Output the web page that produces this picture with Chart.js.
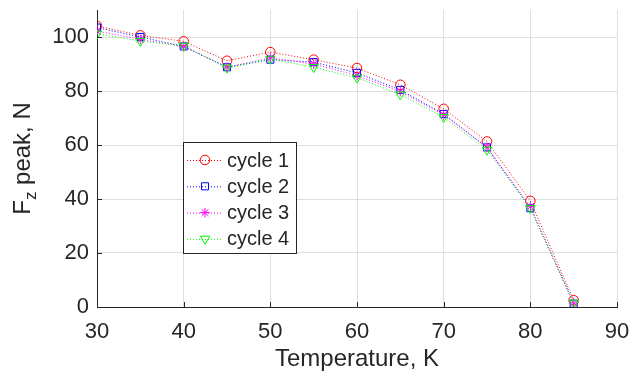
<!DOCTYPE html>
<html lang="en">
<head>
  <meta charset="UTF-8" />
  <title>Fz peak vs temperature</title>
  <script src="https://cdn.jsdelivr.net/npm/chart.js"></script>
  <style>
    html, body { margin: 0; padding: 0; background: #fff; }
    .wrap { width: 633px; height: 374px; }
  </style>
</head>
<body>
  <div class="wrap"><canvas id="fzChart" width="633" height="374"></canvas></div>

  <script>
    // temperature, K
    const temps = [30, 35, 40, 45, 50, 55, 60, 65, 70, 75, 80, 85];

    // peak Fz, N per cycle
    const cycle1 = [104.1, 100.6, 98.4, 91.2, 94.4, 91.6, 88.5, 82.3, 73.4, 61.3, 39.3, 2.5];
    const cycle2 = [103.5, 100.0, 96.5, 88.8, 91.6, 90.7, 86.7, 80.4, 71.5, 59.1, 36.6, 1.2];
    const cycle3 = [102.2, 99.1, 96.5, 88.8, 92.3, 90.0, 85.7, 79.8, 71.1, 59.1, 37.2, 1.5];
    const cycle4 = [101.2, 98.5, 96.7, 88.6, 91.9, 88.8, 84.9, 78.7, 70.3, 58.2, 36.6, 1.5];

    const seriesNames = ['cycle 1', 'cycle 2', 'cycle 3', 'cycle 4'];
    const xTicks = [30, 40, 50, 60, 70, 80, 90];
    const yTicks = [0, 20, 40, 60, 80, 100];

    const axisColor = '#262626';
    const gridColor = '#dfdfdf';
    const font = 'Liberation Sans, Arial, Helvetica, sans-serif';

    function makeSet(label, values, color, style, radius, rotation, order) {
      return {
        label: label,
        data: temps.map((t, i) => ({ x: t, y: values[i] })),
        borderColor: color,
        backgroundColor: 'rgba(0,0,0,0)',
        borderWidth: 1,
        borderDash: [1, 2],
        pointStyle: style,
        pointRadius: radius,
        pointRotation: rotation,
        pointBorderColor: color,
        pointBackgroundColor: 'rgba(0,0,0,0)',
        pointBorderWidth: 1,
        fill: false,
        tension: 0,
        order: order
      };
    }

    // y title with subscript z, drawn by hand
    const yTitlePlugin = {
      id: 'yTitle',
      afterDraw(chart) {
        const ctx = chart.ctx;
        const area = chart.chartArea;
        const big = '24px ' + font;
        const small = '17px ' + font;
        ctx.save();
        ctx.font = big;
        const wF = ctx.measureText('F').width;
        const wRest = ctx.measureText(' peak, N').width;
        ctx.font = small;
        const wz = ctx.measureText('z').width;
        const total = wF + wz + wRest;
        ctx.translate(22, (area.top + area.bottom) / 2);
        ctx.rotate(-Math.PI / 2);
        ctx.fillStyle = axisColor;
        ctx.textBaseline = 'alphabetic';
        let x = -total / 2;
        ctx.font = big;
        ctx.fillText('F', x, 8);
        x += wF;
        ctx.font = small;
        ctx.fillText('z', x, 14);
        x += wz;
        ctx.font = big;
        ctx.fillText(' peak, N', x, 8);
        ctx.restore();
      }
    };

    // inward tick marks like the original axes
    const innerTicksPlugin = {
      id: 'innerTicks',
      afterDatasetsDraw(chart) {
        const ctx = chart.ctx;
        const area = chart.chartArea;
        const xs = chart.scales.x, ys = chart.scales.y;
        ctx.save();
        ctx.strokeStyle = axisColor;
        ctx.lineWidth = 1;
        ctx.beginPath();
        xTicks.forEach(v => {
          const px = Math.round(xs.getPixelForValue(v)) + 0.5;
          ctx.moveTo(px, area.bottom);
          ctx.lineTo(px, area.bottom - 5);
        });
        yTicks.forEach(v => {
          const py = Math.round(ys.getPixelForValue(v)) + 0.5;
          ctx.moveTo(area.left, py);
          ctx.lineTo(area.left + 5, py);
        });
        ctx.stroke();
        ctx.restore();
      }
    };

    // boxed legend sitting inside the plot
    const boxLegendPlugin = {
      id: 'boxLegend',
      afterDraw(chart, args, opts) {
        const ctx = chart.ctx;
        const sets = chart.data.datasets;
        ctx.save();
        ctx.fillStyle = '#fff';
        ctx.fillRect(opts.left, opts.top, opts.width, opts.height);
        ctx.strokeStyle = axisColor;
        ctx.lineWidth = 1;
        ctx.strokeRect(opts.left + 0.5, opts.top + 0.5, opts.width, opts.height);
        ctx.font = '20px ' + font;
        ctx.textBaseline = 'middle';
        sets.forEach((ds, i) => {
          const y = opts.top + opts.firstRow + i * opts.rowGap;
          ctx.strokeStyle = ds.borderColor;
          ctx.setLineDash([1, 2]);
          ctx.beginPath();
          ctx.moveTo(opts.left + 4, y + 0.5);
          ctx.lineTo(opts.left + 40, y + 0.5);
          ctx.stroke();
          ctx.setLineDash([]);
          ctx.fillStyle = 'rgba(0,0,0,0)';
          Chart.helpers.drawPoint(ctx, {
            pointStyle: ds.pointStyle,
            rotation: ds.pointRotation,
            radius: ds.pointRadius,
            borderWidth: 1
          }, opts.left + 22, y);
          ctx.fillStyle = axisColor;
          ctx.fillText(ds.label, opts.left + 44, y + 1);
        });
        ctx.restore();
      }
    };

    new Chart(document.getElementById('fzChart'), {
      type: 'line',
      data: {
        datasets: [
          makeSet(seriesNames[0], cycle1, '#ff0000', 'circle', 4.8, 0, 3),
          makeSet(seriesNames[1], cycle2, '#0000ff', 'rect', 5, 0, 2),
          makeSet(seriesNames[2], cycle3, '#ff00ff', 'star', 4.8, 0, 1),
          makeSet(seriesNames[3], cycle4, '#00ff00', 'triangle', 5.4, 180, 0)
        ]
      },
      options: {
        responsive: false,
        animation: false,
        layout: { padding: { top: 10, right: 16, left: 0, bottom: 0 } },
        plugins: {
          legend: { display: false },
          tooltip: { enabled: false },
          boxLegend: { left: 183, top: 142, width: 113, height: 111, firstRow: 18, rowGap: 26.3 }
        },
        scales: {
          x: {
            type: 'linear',
            min: 30,
            max: 90,
            afterBuildTicks: s => { s.ticks = xTicks.map(v => ({ value: v })); },
            afterFit: s => { s.height = 67; s.paddingLeft = 0; s.paddingRight = 0; },
            ticks: { color: axisColor, font: { family: font, size: 22 }, padding: 12, maxRotation: 0 },
            grid: { color: gridColor, drawTicks: false },
            border: { color: axisColor, width: 1 },
            title: { display: true, text: 'Temperature, K', color: axisColor, font: { family: font, size: 24 }, padding: { top: 2, bottom: 0 } }
          },
          y: {
            min: 0,
            max: 110,
            afterBuildTicks: s => { s.ticks = yTicks.map(v => ({ value: v })); },
            afterFit: s => { s.width = 97; s.paddingTop = 0; s.paddingBottom = 0; },
            ticks: { color: axisColor, font: { family: font, size: 22 }, padding: 8 },
            grid: { color: gridColor, drawTicks: false },
            border: { color: axisColor, width: 1 }
          }
        }
      },
      plugins: [innerTicksPlugin, yTitlePlugin, boxLegendPlugin]
    });
  </script>
</body>
</html>
